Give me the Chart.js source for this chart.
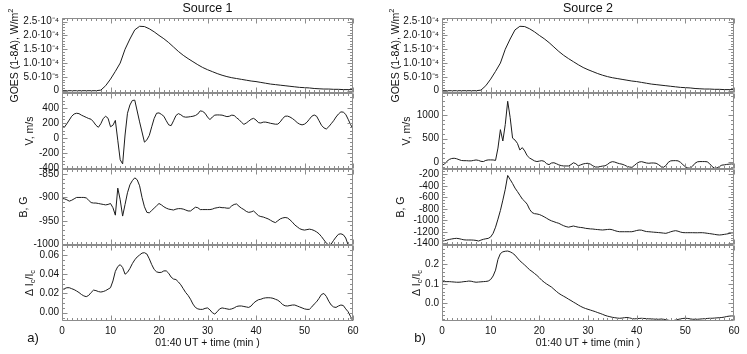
<!DOCTYPE html>
<html>
<head>
<meta charset="utf-8">
<script src="https://cdn.jsdelivr.net/npm/chart.js@4.4.1/dist/chart.umd.min.js"></script>
<style>
  body { margin: 0; background: #fff; }
  #wrap { position: relative; width: 747px; height: 354px; overflow: hidden; }
  #wrap canvas { position: absolute; }
</style>
</head>
<body>
<div id="wrap"></div>
<script>
/* time axis: minutes after 01:40 UT */
var minutes = [];
for (var i = 0; i <= 60; i++) minutes.push(i);
var halfMinutes = [];
for (var j = 0; j <= 120; j++) halfMinutes.push(j / 2);

var xTicks = [0, 10, 20, 30, 40, 50, 60];
var xTitle = '01:40 UT + time (min )';
var sources = ['Source 1', 'Source 2'];
var panelTags = ['a)', 'b)'];

/* GOES 1-8 A flux, units of 1e-4 W/m^2 (same flare for both sources) */
var goesFlux = [
  0, 0, 0, 0, 0, 0, 0, 0, 0.02, 0.18,
  0.42, 0.7, 1.0, 1.5, 1.87, 2.2, 2.33, 2.32, 2.24, 2.13,
  2.0, 1.88, 1.74, 1.58, 1.42, 1.28, 1.16, 1.05, 0.94, 0.84,
  0.76, 0.69, 0.62, 0.56, 0.51, 0.47, 0.44, 0.41, 0.38, 0.35,
  0.33, 0.3, 0.27, 0.24, 0.22, 0.2, 0.18, 0.16, 0.14, 0.12,
  0.11, 0.1, 0.08, 0.07, 0.06, 0.06, 0.05, 0.05, 0.04, 0.04, 0.04
];
var goesTicks = [0, 0.5, 1.0, 1.5, 2.0, 2.5];
var goesTickLabels = ['0', '5.0\u00b710\u207b\u2075', '1.0\u00b710\u207b\u2074', '1.5\u00b710\u207b\u2074', '2.0\u00b710\u207b\u2074', '2.5\u00b710\u207b\u2074'];

/* Source 1 (half-minute samples) */
var v1 = [
  160, 145, 190, 240, 290, 320, 330, 325, 305, 290,
  275, 260, 250, 215, 170, 143, 190, 260, 290, 263,
  150, 170, 235, -30, -290, -345, 40, 330, 440, 500,
  505, 360, 215, 80, -55, -25, 35, 150, 260, 330,
  335, 315, 290, 230, 175, 165, 230, 300, 325, 310,
  285, 278, 280, 285, 290, 300, 320, 362, 355, 330,
  280, 245, 280, 305, 308, 307, 305, 295, 285, 290,
  305, 300, 270, 245, 210, 182, 200, 225, 250, 262,
  240, 205, 200, 212, 212, 205, 196, 190, 184, 185,
  215, 260, 290, 292, 280, 260, 235, 205, 185, 175,
  185, 210, 250, 290, 307, 290, 230, 170, 135, 120,
  150, 190, 230, 280, 320, 348, 345, 315, 250, 180,
  120
];
var b1 = [
  -902, -903, -905, -908, -906, -903, -900, -900, -900, -900,
  -901, -906, -911, -912, -912, -913, -914, -915, -916, -915,
  -913, -922, -938, -880, -905, -940, -915, -890, -873, -864,
  -858, -862, -875, -900, -920, -932, -933, -928, -923, -918,
  -913, -916, -920, -923, -925, -926, -927, -925, -924, -924,
  -925, -927, -929, -929, -925, -921, -922, -926, -926, -926,
  -926, -926, -925, -923, -922, -921, -922, -922, -923, -923,
  -918, -915, -914, -919, -923, -926, -930, -932, -931, -929,
  -934, -939, -941, -942, -944, -946, -949, -952, -954, -950,
  -946, -944, -943, -944, -948, -953, -959, -963, -967, -969,
  -970, -969, -968, -969, -971, -974, -978, -984, -991, -998,
  -1002, -1000, -992, -985, -979, -978, -980, -987, -1002, -1012,
  -1020
];
var dI1 = [
  0.0236, 0.025, 0.026, 0.026, 0.025, 0.024, 0.0226, 0.021, 0.019, 0.0175,
  0.0167, 0.018, 0.021, 0.0235, 0.023, 0.022, 0.0215, 0.022, 0.023, 0.0245,
  0.026, 0.033, 0.043, 0.048, 0.050, 0.047, 0.040, 0.042, 0.046, 0.051,
  0.055, 0.058, 0.060, 0.062, 0.0624, 0.061, 0.056, 0.050, 0.045, 0.0425,
  0.0418, 0.042, 0.0435, 0.0435, 0.041, 0.037, 0.035, 0.0345, 0.032, 0.029,
  0.025, 0.021, 0.018, 0.014, 0.009, 0.0055, 0.004, 0.0035, 0.0035, 0.0045,
  0.005, 0.003, 0.000, -0.0014, 0.001, 0.004, 0.005, 0.0045, 0.004, 0.0035,
  0.004, 0.005, 0.0065, 0.007, 0.007, 0.0065, 0.006, 0.0055, 0.007, 0.010,
  0.012, 0.0135, 0.014, 0.015, 0.0155, 0.0156, 0.0155, 0.015, 0.014, 0.013,
  0.011, 0.0085, 0.0072, 0.007, 0.0075, 0.008, 0.008, 0.007, 0.006, 0.005,
  0.004, 0.0035, 0.0035, 0.006, 0.009, 0.0114, 0.015, 0.019, 0.020, 0.017,
  0.012, 0.008, 0.006, 0.0055, 0.007, 0.008, 0.0075, 0.004, 0.001, -0.004,
  -0.009
];

/* Source 2 (half-minute samples) */
var v2 = [
  -60, -40, 20, 60, 80, 85, 75, 55, 38, 34,
  34, 30, 30, 40, 49, 40, 20, 15, 40, 50,
  50, 49, 40, 300, 690, 450, 800, 1290, 950, 510,
  470, 400, 260, 310, 240, 140, 90, 60, 30, 15,
  25, 34, 20, -30, -50, -15, -10, -30, -55, -70,
  -78, -78, -78, -50, -10, -30, -75, -55, -35, -25,
  -21, -40, -75, -100, -100, -90, -80, -75, -45, -5,
  13, 5, -15, -30, -40, -60, -85, -100, -106, -70,
  -25, 5, 13, 0, -15, -21, -15, -15, -21, -50,
  -90, -106, -70, 0, 30, 34, 35, 30, 0, -50,
  -95, -120, -125, -80, -20, 10, 15, 15, 15, 10,
  -30, -90, -125, -120, -90, -60, -55, -45, -40, -35,
  -40
];
var b2 = [
  -1365, -1355, -1345, -1333, -1325, -1318, -1314, -1320, -1330, -1340,
  -1343, -1343, -1343, -1345, -1350, -1361, -1345, -1331, -1322, -1315,
  -1290, -1227, -1120, -980, -830, -650, -460, -220, -290, -360,
  -440, -500, -565, -630, -670, -720, -810, -865, -885, -890,
  -900, -918, -940, -965, -990, -1010, -1025, -1040, -1053, -1075,
  -1095, -1110, -1120, -1110, -1100, -1110, -1120, -1125, -1130, -1140,
  -1145, -1150, -1152, -1158, -1162, -1166, -1169, -1165, -1160, -1157,
  -1165, -1180, -1192, -1199, -1199, -1199, -1199, -1199, -1199, -1190,
  -1178, -1170, -1172, -1185, -1196, -1199, -1203, -1207, -1210, -1214,
  -1218, -1223, -1227, -1215, -1200, -1188, -1181, -1190, -1205, -1214,
  -1216, -1216, -1216, -1216, -1217, -1217, -1216, -1216, -1220, -1226,
  -1232, -1238, -1245, -1252, -1256, -1252, -1245, -1239, -1230, -1220,
  -1216
];
var dI2 = [
  0.111, 0.111, 0.111, 0.111, 0.110, 0.109, 0.108, 0.108, 0.109, 0.111,
  0.112, 0.114, 0.113, 0.110, 0.108, 0.109, 0.110, 0.111, 0.112, 0.114,
  0.122, 0.140, 0.170, 0.225, 0.255, 0.264, 0.267, 0.268, 0.264, 0.257,
  0.247, 0.232, 0.218, 0.207, 0.196, 0.184, 0.172, 0.163, 0.153, 0.143,
  0.131, 0.118, 0.108, 0.099, 0.091, 0.083, 0.072, 0.061, 0.051, 0.043,
  0.036, 0.029, 0.021, 0.014, 0.006, -0.001, -0.009, -0.016, -0.022, -0.027,
  -0.031, -0.035, -0.039, -0.043, -0.048, -0.052, -0.057, -0.062, -0.066, -0.069,
  -0.072, -0.074, -0.076, -0.077, -0.076, -0.074, -0.073, -0.075, -0.078, -0.080,
  -0.079, -0.078, -0.077, -0.078, -0.079, -0.080, -0.080, -0.081, -0.082, -0.082,
  -0.081, -0.082, -0.084, -0.087, -0.089, -0.089, -0.086, -0.083, -0.080, -0.078,
  -0.077, -0.078, -0.080, -0.082, -0.082, -0.082, -0.081, -0.080, -0.079, -0.078,
  -0.077, -0.077, -0.076, -0.075, -0.074, -0.073, -0.071, -0.068, -0.066, -0.065,
  -0.065
];

var v1Ticks = [-400, -200, 0, 200, 400];
var b1Ticks = [-1000, -950, -900, -850];
var dI1Ticks = [0, 0.02, 0.04, 0.06];
var dI1Labels = ['0.00', '0.02', '0.04', '0.06'];
var v2Ticks = [0, 500, 1000];
var b2Ticks = [-1400, -1200, -1000, -800, -600, -400, -200];
var dI2Ticks = [0, 0.1, 0.2];
var dI2Labels = ['0.0', '0.1', '0.2'];

var goesTitle = [['GOES (1-8A), W/m', ''], ['2', 'sup']];
var vTitle = [['V, m/s', '']];
var bTitle = [['B, G', '']];
var dITitle = [['\u0394 I', ''], ['c', 'sub'], ['/I', ''], ['c', 'sub']];

var FONT = "'Liberation Sans', Arial, sans-serif";
var INK = '#111';

/* page geometry */
var colCanvas = [{ left: 0, width: 370, axisW: 62, padR: 17 }, { left: 372, width: 375, axisW: 70, padR: 13 }];
var rowTop = [18, 93, 169, 245];
var rowBot = [93, 169, 245, 321];
var PAD = 18;

var panels = [
  { col: 0, row: 0, t: minutes, y: goesFlux, min: -0.083, max: 2.63, ticks: goesTicks, labels: goesTickLabels, minorN: 5, title: goesTitle, tx: 15 },
  { col: 0, row: 1, t: halfMinutes, y: v1, min: -413, max: 600, ticks: v1Ticks, minorN: 4, title: vTitle, tx: 30 },
  { col: 0, row: 2, t: halfMinutes, y: b1, min: -1002, max: -839, ticks: b1Ticks, minorN: 5, title: bTitle, tx: 24 },
  { col: 0, row: 3, t: halfMinutes, y: dI1, min: -0.0086, max: 0.0704, ticks: dI1Ticks, labels: dI1Labels, minorN: 4, title: dITitle, tx: 30 },
  { col: 1, row: 0, t: minutes, y: goesFlux, min: -0.083, max: 2.63, ticks: goesTicks, labels: goesTickLabels, minorN: 5, title: goesTitle, tx: 396 },
  { col: 1, row: 1, t: halfMinutes, y: v2, min: -142, max: 1465, ticks: v2Ticks, minorN: 5, title: vTitle, tx: 407 },
  { col: 1, row: 2, t: halfMinutes, y: b2, min: -1430, max: -108, ticks: b2Ticks, minorN: 4, title: bTitle, tx: 401 },
  { col: 1, row: 3, t: halfMinutes, y: dI2, min: -0.091, max: 0.299, ticks: dI2Ticks, labels: dI2Labels, minorN: 5, title: dITitle, tx: 417 }
];

function drawRich(c, parts, size) {
  var w = 0, widths = [];
  parts.forEach(function (p) {
    c.font = (p[1] ? size * 0.72 : size) + 'px ' + FONT;
    var pw = c.measureText(p[0]).width;
    widths.push(pw);
    w += pw;
  });
  var x = -w / 2;
  parts.forEach(function (p, k) {
    c.font = (p[1] ? size * 0.72 : size) + 'px ' + FONT;
    var dy = p[1] === 'sup' ? -size * 0.42 : (p[1] === 'sub' ? size * 0.3 : 0);
    c.fillText(p[0], x, dy);
    x += widths[k];
  });
}

/* box, inward IDL-style ticks, axis title, headings */
function decoPlugin(p, cv, top) {
  return {
    id: 'deco',
    afterDraw: function (chart) {
      var c = chart.ctx, a = chart.chartArea, xs = chart.scales.x, ys = chart.scales.y;
      var L = Math.round(a.left) + 0.5, R = Math.round(a.right) - 0.5;
      var T = Math.round(a.top) + 0.5, B = Math.round(a.bottom) - 0.5;
      c.save();
      c.strokeStyle = '#8c8c8c';
      c.lineWidth = 1;
      c.beginPath();
      c.moveTo(L, T); c.lineTo(R, T); c.lineTo(R, B); c.lineTo(L, B); c.closePath();
      var k, px, len;
      var xStep = (xTicks[1] - xTicks[0]) / 10;
      for (k = 0; xTicks[0] + k * xStep <= xs.max + 1e-9; k++) {
        px = Math.round(xs.getPixelForValue(xTicks[0] + k * xStep)) + 0.5;
        len = k % 10 === 0 ? 5 : 2.5;
        c.moveTo(px, T); c.lineTo(px, T + len);
        c.moveTo(px, B); c.lineTo(px, B - len);
      }
      var yt = p.ticks, step = (yt[1] - yt[0]) / p.minorN;
      var k0 = Math.ceil((ys.min - yt[0]) / step - 1e-6), k1 = Math.floor((ys.max - yt[0]) / step + 1e-6);
      for (k = k0; k <= k1; k++) {
        px = Math.round(ys.getPixelForValue(yt[0] + k * step)) + 0.5;
        len = ((k % p.minorN) + p.minorN) % p.minorN === 0 ? 5 : 2.5;
        c.moveTo(L, px); c.lineTo(L + len, px);
        c.moveTo(R, px); c.lineTo(R - len, px);
      }
      c.stroke();

      c.fillStyle = INK;
      if (p.row === 0) {
        c.font = '12.5px ' + FONT;
        c.textAlign = 'center';
        c.textBaseline = 'middle';
        c.fillText(sources[p.col], (a.left + a.right) / 2, 8.5 - top);
      }
      if (p.row === 3) {
        c.font = '13px ' + FONT;
        c.textAlign = 'center';
        c.textBaseline = 'middle';
        c.fillText(panelTags[p.col], (p.col === 0 ? 33 : 420) - cv.left, 338 - top);
      }
      c.textAlign = 'left';
      c.textBaseline = 'middle';
      c.translate(p.tx - cv.left, (a.top + a.bottom) / 2);
      c.rotate(-Math.PI / 2);
      drawRich(c, p.title, 10.5);
      c.restore();
    }
  };
}

var wrap = document.getElementById('wrap');
panels.forEach(function (p) {
  var cv = colCanvas[p.col];
  var bottomRow = p.row === 3;
  var top = rowTop[p.row] - PAD;
  var height = bottomRow ? 354 - top : rowBot[p.row] - rowTop[p.row] + 2 * PAD;
  var canvas = document.createElement('canvas');
  canvas.width = cv.width;
  canvas.height = height;
  canvas.style.left = cv.left + 'px';
  canvas.style.top = top + 'px';
  wrap.appendChild(canvas);

  var pts = p.t.map(function (t, n) { return { x: t, y: p.y[n] }; });

  var xScale = {
    type: 'linear',
    min: 0,
    max: 60,
    display: bottomRow,
    afterBuildTicks: function (s) { s.ticks = xTicks.map(function (v) { return { value: v }; }); },
    grid: { display: false, drawTicks: false },
    border: { display: false },
    ticks: { padding: 4, color: INK, autoSkip: false, maxRotation: 0, font: { family: FONT, size: 10 } },
    title: { display: true, text: xTitle, color: INK, font: { family: FONT, size: 10.5 }, padding: { top: 0, bottom: 5 } }
  };
  if (bottomRow) xScale.afterFit = function (s) { s.height = 33; };

  new Chart(canvas.getContext('2d'), {
    type: 'line',
    data: {
      datasets: [{
        data: pts,
        borderColor: '#1c1c1c',
        borderWidth: 1,
        pointRadius: 0,
        tension: 0,
        fill: false
      }]
    },
    options: {
      responsive: false,
      animation: false,
      events: [],
      layout: { padding: { left: 0, right: cv.padR, top: PAD, bottom: bottomRow ? 0 : PAD } },
      plugins: { legend: { display: false }, tooltip: { enabled: false } },
      scales: {
        x: xScale,
        y: {
          type: 'linear',
          min: p.min,
          max: p.max,
          afterBuildTicks: function (s) { s.ticks = p.ticks.map(function (v) { return { value: v }; }); },
          afterFit: function (s) { s.width = cv.axisW; },
          grid: { display: false, drawTicks: false },
          border: { display: false },
          ticks: {
            padding: 3,
            color: INK,
            autoSkip: false,
            font: { family: FONT, size: 10 },
            callback: function (v, n) { return p.labels ? p.labels[n] : String(v); }
          }
        }
      }
    },
    plugins: [decoPlugin(p, cv, top)]
  });
});
</script>
</body>
</html>
